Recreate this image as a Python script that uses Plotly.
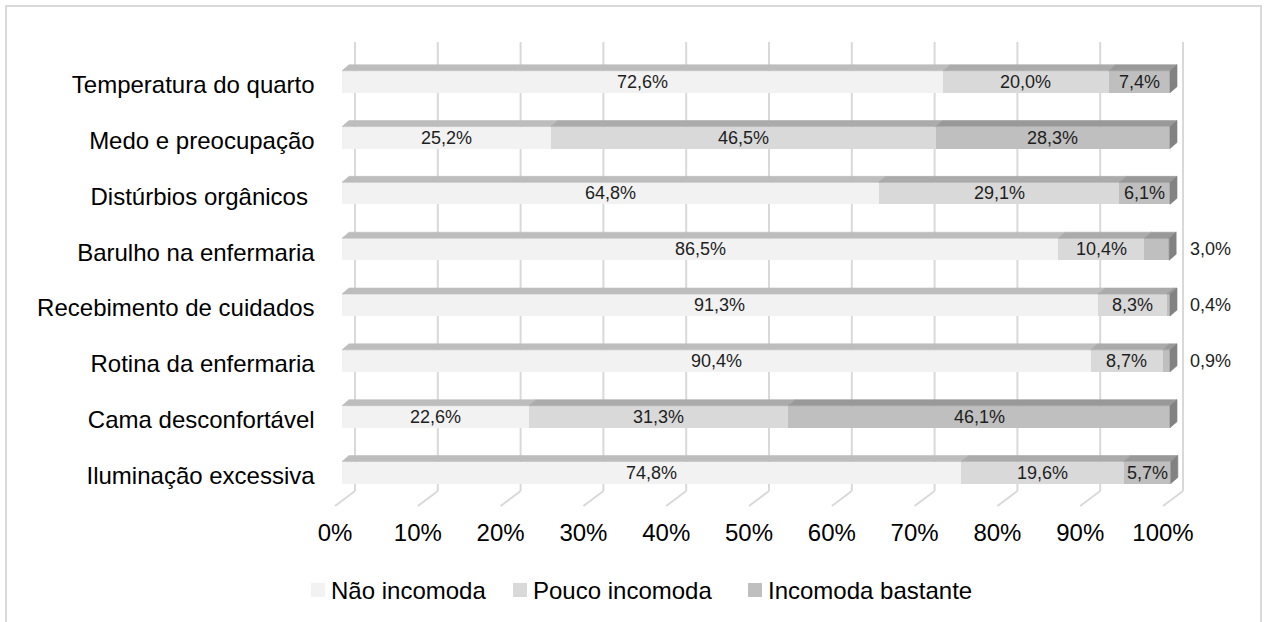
import plotly.graph_objects as go

# ---- data -------------------------------------------------------------
categories = [
    "Temperatura do quarto",
    "Medo e preocupação",
    "Distúrbios orgânicos\u00a0",
    "Barulho na enfermaria",
    "Recebimento de cuidados",
    "Rotina da enfermaria",
    "Cama desconfortável",
    "Iluminação excessiva",
]
nao_incomoda = [72.6, 25.2, 64.8, 86.5, 91.3, 90.4, 22.6, 74.8]
pouco_incomoda = [20.0, 46.5, 29.1, 10.4, 8.3, 8.7, 31.3, 19.6]
incomoda_bastante = [7.4, 28.3, 6.1, 3.0, 0.4, 0.9, 46.1, 5.7]
series_names = ["Não incomoda", "Pouco incomoda", "Incomoda bastante"]
x_ticks = [0, 10, 20, 30, 40, 50, 60, 70, 80, 90, 100]

# ---- styling ----------------------------------------------------------
W, H = 1265, 622
FONT = "Liberation Sans, Arial, sans-serif"
front_colors = ["#f2f2f2", "#d9d9d9", "#bfbfbf"]
top_colors = ["#bdbdbd", "#ababab", "#999999"]
side_color = "#828282"
grid_color = "#d9d9d9"

# pixel geometry of the bar plane
X0_PX = 342.0          # x pixel of 0 %
PX_PER_UNIT = 8.28     # pixels per percentage point
ROW0_PX = 81.7         # centre of first bar
ROW_STEP = 55.83       # distance between bars
BAR_PX = 22.0          # bar thickness
DEPTH_DX, DEPTH_DY = 7.0, 6.0   # 3-D depth offset in pixels

x_range = [-2, 104]
xdom = [(X0_PX + x_range[0] * PX_PER_UNIT) / W, (X0_PX + x_range[1] * PX_PER_UNIT) / W]
n = len(categories)
y_top_px = ROW0_PX - ROW_STEP / 2
y_bot_px = ROW0_PX + (n - 1) * ROW_STEP + ROW_STEP / 2
ydom = [(H - y_bot_px) / H, (H - y_top_px) / H]

bar_w = BAR_PX / ROW_STEP
ddx = DEPTH_DX / PX_PER_UNIT
ddy = DEPTH_DY / ROW_STEP

series = [nao_incomoda, pouco_incomoda, incomoda_bastante]
ypos = list(range(n))

fig = go.Figure()

# front faces
for name, vals, col in zip(series_names, series, front_colors):
    fig.add_trace(go.Bar(
        y=ypos, x=vals, name=name, orientation="h",
        marker=dict(color=col, line=dict(width=0)),
        width=bar_w, hoverinfo="skip", showlegend=False,
    ))

# top faces (one polygon per segment) and right side faces
starts = [0.0] * n
top_polys = []
for vals in series:
    xs, ys = [], []
    for i, v in enumerate(vals):
        s, e = starts[i], starts[i] + v
        top = i - bar_w / 2
        xs += [s, e, e + ddx, s + ddx, s, None]
        ys += [top, top, top - ddy, top - ddy, top, None]
        starts[i] = e
    top_polys.append((xs, ys))

for (xs, ys), col in zip(top_polys, top_colors):
    fig.add_trace(go.Scatter(
        x=xs, y=ys, mode="lines", fill="toself", fillcolor=col,
        line=dict(width=0.6, color=col), hoverinfo="skip", showlegend=False,
    ))

sx, sy = [], []
for i in range(n):
    e = starts[i]
    top, bot = i - bar_w / 2, i + bar_w / 2
    sx += [e, e + ddx, e + ddx, e, e, None]
    sy += [top, top - ddy, bot - ddy, bot, top, None]
fig.add_trace(go.Scatter(
    x=sx, y=sy, mode="lines", fill="toself", fillcolor=side_color,
    line=dict(width=0.6, color=side_color), hoverinfo="skip", showlegend=False,
))

# data labels
def fmt(v):
    return f"{v:.1f}%".replace(".", ",")

annotations = []
starts = [0.0] * n
outside_x = 100 + (1188 - (X0_PX + 100 * PX_PER_UNIT)) / PX_PER_UNIT
for vals in series:
    for i, v in enumerate(vals):
        s = starts[i]
        inside = v >= 4
        annotations.append(dict(
            x=s + v / 2 if inside else outside_x, y=i, xref="x", yref="y",
            text=fmt(v), showarrow=False,
            xanchor="center" if inside else "left", yanchor="middle",
            font=dict(size=18, color="#1e1e1e", family=FONT),
        ))
        starts[i] = s + v

# back-wall gridlines and floor lines
GRID_DX = 13.0 / PX_PER_UNIT      # back wall offset
FLOOR_DX = -7.0 / PX_PER_UNIT     # front floor edge offset
wall_top = (H - 42) / H
wall_bot = (H - 491) / H
floor_front = (H - 506) / H
shapes = []
for t in x_ticks:
    shapes.append(dict(type="line", xref="x", yref="paper",
                       x0=t + GRID_DX, x1=t + GRID_DX, y0=wall_bot, y1=wall_top,
                       line=dict(color=grid_color, width=2), layer="below"))
    shapes.append(dict(type="line", xref="x", yref="paper",
                       x0=t + GRID_DX, x1=t + FLOOR_DX, y0=wall_bot, y1=floor_front,
                       line=dict(color=grid_color, width=2), layer="below"))

# outer chart frame
shapes.append(dict(type="rect", xref="paper", yref="paper",
                   x0=6 / W, x1=1261 / W, y0=-0.05, y1=(H - 6) / H,
                   line=dict(color="#d9d9d9", width=2), fillcolor="rgba(0,0,0,0)",
                   layer="below"))

# legend: colour swatch followed by series name
legend_text_px = [329, 531, 766]
LEG_Y = 590
SW = 14
SW_GAP = 4
for name, col, tx in zip(series_names, front_colors, legend_text_px):
    shapes.append(dict(type="rect", xref="paper", yref="paper",
                       x0=(tx - SW_GAP - SW) / W, x1=(tx - SW_GAP) / W,
                       y0=(H - LEG_Y - SW / 2) / H, y1=(H - LEG_Y + SW / 2) / H,
                       line=dict(width=0), fillcolor=col))
    annotations.append(dict(
        x=tx / W, y=(H - LEG_Y) / H, xref="paper", yref="paper",
        text=name, showarrow=False, xanchor="left", yanchor="middle",
        font=dict(size=24, color="#000000", family=FONT),
    ))

fig.update_layout(
    template="none",
    width=W, height=H, autosize=False,
    margin=dict(l=0, r=0, t=0, b=0, pad=0),
    paper_bgcolor="white", plot_bgcolor="rgba(0,0,0,0)",
    barmode="stack", showlegend=False,
    font=dict(family=FONT, color="#000000", size=24),
    xaxis=dict(
        domain=xdom, range=x_range, tickvals=x_ticks,
        ticktext=[f"{t}%" for t in x_ticks],
        showgrid=False, zeroline=False, showline=False, automargin=False,
        ticks="outside", ticklen=11, tickcolor="rgba(0,0,0,0)",
        ticklabelshift=-7, tickfont=dict(size=24, color="#000000"),
        fixedrange=True,
    ),
    yaxis=dict(
        domain=ydom, range=[n - 0.5, -0.5], tickvals=ypos, ticktext=categories,
        showgrid=False, zeroline=False, showline=False, automargin=False,
        ticks="outside", ticklen=5, tickcolor="rgba(0,0,0,0)",
        ticklabelshift=-3,
        tickfont=dict(size=24, color="#000000"), fixedrange=True,
    ),
    annotations=annotations,
    shapes=shapes,
)

fig.write_html("out.html")
